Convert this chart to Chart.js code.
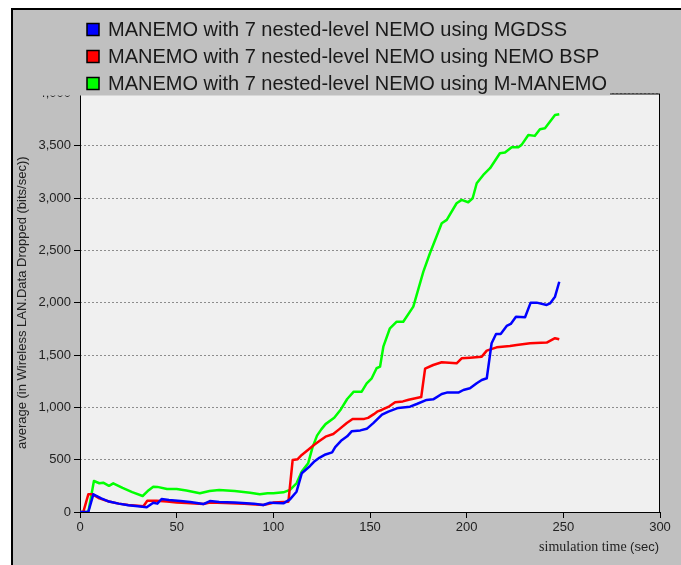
<!DOCTYPE html>
<html>
<head>
<meta charset="utf-8">
<script src="https://cdn.jsdelivr.net/npm/chart.js@4"></script>
<style>
  html, body { margin: 0; padding: 0; background: #fff; }
</style>
</head>
<body>
<canvas id="myChart" width="681" height="565"></canvas>
<script>
// series labels
const seriesLabels = [
  'MANEMO with 7 nested-level NEMO using MGDSS',
  'MANEMO with 7 nested-level NEMO using NEMO BSP',
  'MANEMO with 7 nested-level NEMO using M-MANEMO'
];

// x axis ticks (sec) / y axis ticks
const xTicks = [0, 50, 100, 150, 200, 250, 300];
const yTicks = [0, 500, 1000, 1500, 2000, 2500, 3000, 3500, 4000];

// MGDSS (blue)
const mgdssTime = [0, 4.3, 6.9, 11, 15, 20, 25, 30, 34.5, 37.9, 40, 42.2, 46, 52, 57, 63.8, 67.2, 72, 80, 90, 94.8, 98.3, 105.2, 108.6, 112, 114.7, 119, 121, 124, 127, 130.4, 132, 135, 138.2, 140.5, 145, 148.3, 151.7, 156.2, 159.5, 164.6, 170.7, 174.2, 179.3, 182.7, 187.1, 189.7, 195.7, 198.3, 201.7, 205.2, 207.8, 210.4, 212.9, 215.2, 217.6, 220.7, 222.8, 225.5, 230.2, 233.1, 236.2, 241.4, 243.1, 245.7, 247.9];
const mgdssValue = [0, 0, 169, 130, 100, 80, 65, 55, 45, 89, 80, 124, 115, 105, 95, 76, 105, 95, 90, 80, 67, 89, 83, 121, 194, 370, 440, 480, 520, 550, 570, 620, 680, 723, 771, 780, 795, 850, 930, 960, 995, 1007, 1032, 1071, 1077, 1128, 1141, 1141, 1166, 1182, 1230, 1262, 1278, 1613, 1702, 1702, 1778, 1797, 1867, 1861, 2001, 2001, 1979, 1994, 2058, 2201];

// NEMO BSP (red)
const bspTime = [0, 1.7, 4.3, 6.6, 10, 15, 20, 25, 30, 32.8, 34.8, 39.6, 45, 50, 55, 63.8, 67.2, 75, 85, 94.8, 98.3, 100, 107.8, 110, 112.6, 114.7, 119, 121, 124, 127, 131, 134, 138, 141, 147, 149, 152, 154, 156, 160, 163, 167, 170, 176.5, 178.5, 182.7, 187.1, 194.8, 197.4, 201.7, 207.8, 210.4, 215.5, 222.4, 225.9, 232.8, 241.4, 245.7, 247.9];
const bspValue = [0, 0, 169, 169, 130, 100, 80, 68, 60, 55, 108, 108, 100, 90, 85, 76, 90, 85, 78, 67, 80, 90, 99, 497, 505, 545, 609, 640, 680, 720, 745, 790, 850, 888, 890, 900, 935, 962, 975, 1010, 1050, 1057, 1073, 1099, 1370, 1405, 1431, 1421, 1469, 1475, 1485, 1542, 1574, 1587, 1597, 1613, 1619, 1661, 1651];

// M-MANEMO (green)
const mmanemoTime = [0, 4.3, 7.2, 10, 12, 15, 17.2, 22, 27, 32.4, 35, 37.9, 40, 45, 50, 55, 62, 67, 72, 80, 88, 93, 97, 100, 105.2, 108.6, 112, 114.7, 118, 120.3, 122.6, 124.8, 127, 131.5, 134.9, 138.2, 141.6, 143.1, 145.7, 148.3, 150.9, 153.4, 155.2, 156.9, 160.3, 163.8, 167.2, 172.4, 177.6, 181, 187.1, 189.7, 194.8, 197.4, 200.8, 203.1, 205.2, 208.6, 212.1, 217.2, 219.8, 223.3, 226.7, 228.4, 231.9, 235.3, 237.9, 240.5, 245.7, 247.9];
const mmanemoValue = [0, 0, 296, 275, 280, 250, 274, 230, 190, 153, 200, 242, 240, 220, 220, 205, 180, 200, 210, 200, 185, 170, 180, 180, 188, 211, 274, 386, 465, 620, 730, 790, 840, 900, 980, 1080, 1150, 1150, 1150, 1230, 1278, 1374, 1389, 1580, 1756, 1819, 1819, 1963, 2297, 2473, 2760, 2792, 2951, 2983, 2961, 2999, 3142, 3222, 3286, 3429, 3436, 3487, 3487, 3509, 3604, 3595, 3659, 3668, 3795, 3802];

const seriesColors = ['#0000ff', '#ff0000', '#00ff00'];

function toPoints(xs, ys) {
  return xs.map((x, i) => ({ x: x, y: ys[i] }));
}

// frame, plot background, legend box, x title
const framePlugin = {
  id: 'frame',
  beforeDraw(chart) {
    const c = chart.ctx, a = chart.chartArea;
    c.save();
    c.fillStyle = '#fff';
    c.fillRect(0, 0, chart.width, chart.height);
    c.fillStyle = '#c0c0c0';
    c.fillRect(11, 8, chart.width - 11, chart.height - 8);
    c.fillStyle = '#000';
    c.fillRect(11, 8, chart.width - 11, 2);
    c.fillRect(11, 8, 2, chart.height - 8);
    c.fillStyle = '#f0f0f0';
    c.fillRect(a.left, a.top, a.right - a.left, a.bottom - a.top);
    c.restore();
  },
  beforeDatasetsDraw(chart) {
    const c = chart.ctx, a = chart.chartArea;
    c.save();
    c.strokeStyle = '#000';
    c.lineWidth = 1;
    c.strokeRect(a.left + 0.5, a.top + 0.5, a.right - a.left - 1, a.bottom - a.top);
    c.restore();
  },
  afterDraw(chart) {
    const c = chart.ctx;
    c.save();
    // legend box over the top of the plot
    c.fillStyle = '#c0c0c0';
    c.fillRect(13, 10, 597, 85.5);
    c.font = '20px "Liberation Sans", Arial, sans-serif';
    c.textBaseline = 'middle';
    seriesLabels.forEach((lab, i) => {
      const y = 29.5 + i * 27;
      c.fillStyle = seriesColors[i];
      c.fillRect(87, y - 6, 12, 12);
      c.strokeStyle = '#000';
      c.lineWidth = 1.5;
      c.strokeRect(87, y - 6, 12, 12);
      c.fillStyle = '#1a1a1a';
      c.fillText(lab, 108, y + 1);
    });
    // x axis title
    c.fillStyle = '#222';
    c.textBaseline = 'middle';
    c.font = '13px "Liberation Sans", Arial, sans-serif';
    const sec = '(sec)';
    const secW = c.measureText(sec).width;
    const right = 659;
    c.fillText(sec, right - secW, 547);
    c.font = '14px "Liberation Serif", "Times New Roman", serif';
    const st = 'simulation time ';
    const stW = c.measureText(st).width;
    c.fillText(st, right - secW - stW, 547);
    c.restore();
  }
};

const ctx = document.getElementById('myChart');

new Chart(ctx, {
  type: 'line',
  data: {
    datasets: [
      { label: seriesLabels[0], data: toPoints(mgdssTime, mgdssValue), borderColor: seriesColors[0] },
      { label: seriesLabels[1], data: toPoints(bspTime, bspValue), borderColor: seriesColors[1] },
      { label: seriesLabels[2], data: toPoints(mmanemoTime, mmanemoValue), borderColor: seriesColors[2] }
    ]
  },
  options: {
    responsive: false,
    animation: false,
    devicePixelRatio: 1,
    layout: { padding: { left: 13, top: 93.5, right: 21, bottom: 0 } },
    elements: {
      line: { borderWidth: 2.5, tension: 0, fill: false, borderJoinStyle: 'round' },
      point: { radius: 0, hoverRadius: 0 }
    },
    plugins: {
      legend: { display: false },
      tooltip: { enabled: false }
    },
    scales: {
      x: {
        type: 'linear',
        min: xTicks[0],
        max: xTicks[xTicks.length - 1],
        afterBuildTicks: s => { s.ticks = xTicks.map(v => ({ value: v })); },
        afterFit: s => { s.height = 53; },
        grid: { drawOnChartArea: false, drawTicks: true, tickLength: 6, tickColor: '#000', tickWidth: 1 },
        border: { display: false },
        ticks: { color: '#222', padding: 2, maxRotation: 0, font: { size: 13, family: '"Liberation Sans", Arial, sans-serif' } }
      },
      y: {
        type: 'linear',
        min: yTicks[0],
        max: yTicks[yTicks.length - 1],
        afterBuildTicks: s => { s.ticks = yTicks.map(v => ({ value: v })); },
        afterFit: s => { s.width = 67; },
        grid: { color: '#8c8c8c', lineWidth: 1, drawTicks: true, tickLength: 6, tickColor: '#000', tickWidth: 1, tickBorderDash: [] },
        border: { display: false, dash: [2, 2] },
        ticks: {
          color: '#222', padding: 3,
          font: { size: 13, family: '"Liberation Sans", Arial, sans-serif' },
          callback: v => v.toLocaleString('en-US')
        },
        title: {
          display: true,
          text: 'average (in Wireless LAN.Data Dropped (bits/sec))',
          color: '#222',
          padding: { top: 2, bottom: 0 },
          font: { size: 13, family: '"Liberation Sans", Arial, sans-serif' }
        }
      }
    }
  },
  plugins: [framePlugin]
});
</script>
</body>
</html>
